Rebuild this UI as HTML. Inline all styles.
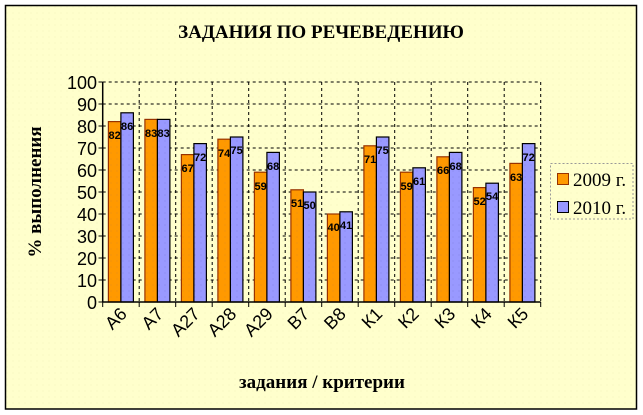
<!DOCTYPE html>
<html><head><meta charset="utf-8"><style>
html,body{margin:0;padding:0;background:#fff;}
svg{display:block;}
</style></head><body>
<svg width="643" height="415" viewBox="0 0 643 415" xmlns="http://www.w3.org/2000/svg">
<defs>
<pattern id="dots" width="6" height="6" patternUnits="userSpaceOnUse"><rect width="6" height="6" fill="#FFFFCC"/><circle cx="1" cy="1" r="0.6" fill="#F4F4C0"/></pattern>
<pattern id="od" width="6" height="6" patternUnits="userSpaceOnUse"><rect width="6" height="6" fill="#FF9900"/><circle cx="3" cy="3" r="0.5" fill="#E08A20"/></pattern>
<pattern id="bd" width="6" height="6" patternUnits="userSpaceOnUse"><rect width="6" height="6" fill="#9999FF"/><circle cx="3" cy="3" r="0.5" fill="#8080E0"/></pattern>
</defs>
<rect x="5.5" y="5.5" width="631" height="403.5" fill="url(#dots)" stroke="#000" stroke-width="1.5"/>
<text x="321" y="38" text-anchor="middle" font-family="Liberation Serif, serif" font-weight="bold" font-size="19">ЗАДАНИЯ ПО РЕЧЕВЕДЕНИЮ</text>
<g stroke="#000" stroke-width="1" stroke-dasharray="3,3" fill="none">
<line x1="102.7" y1="82" x2="540.7" y2="82"/><line x1="102.7" y1="104" x2="540.7" y2="104"/><line x1="102.7" y1="126" x2="540.7" y2="126"/><line x1="102.7" y1="148" x2="540.7" y2="148"/><line x1="102.7" y1="170" x2="540.7" y2="170"/><line x1="102.7" y1="192" x2="540.7" y2="192"/><line x1="102.7" y1="214" x2="540.7" y2="214"/><line x1="102.7" y1="236" x2="540.7" y2="236"/><line x1="102.7" y1="258" x2="540.7" y2="258"/><line x1="102.7" y1="280" x2="540.7" y2="280"/>
<line x1="139.2" y1="82" x2="139.2" y2="302"/><line x1="175.7" y1="82" x2="175.7" y2="302"/><line x1="212.2" y1="82" x2="212.2" y2="302"/><line x1="248.7" y1="82" x2="248.7" y2="302"/><line x1="285.2" y1="82" x2="285.2" y2="302"/><line x1="321.7" y1="82" x2="321.7" y2="302"/><line x1="358.2" y1="82" x2="358.2" y2="302"/><line x1="394.7" y1="82" x2="394.7" y2="302"/><line x1="431.2" y1="82" x2="431.2" y2="302"/><line x1="467.7" y1="82" x2="467.7" y2="302"/><line x1="504.2" y1="82" x2="504.2" y2="302"/><line x1="540.7" y1="82" x2="540.7" y2="302"/>
</g>
<g stroke="#993300" stroke-width="1.2" fill="url(#od)">
<rect x="108.4" y="121.6" width="12.5" height="180.4"/><rect x="144.9" y="119.4" width="12.5" height="182.6"/><rect x="181.4" y="154.6" width="12.5" height="147.4"/><rect x="217.9" y="139.2" width="12.5" height="162.8"/><rect x="254.4" y="172.2" width="12.5" height="129.8"/><rect x="290.9" y="189.8" width="12.5" height="112.2"/><rect x="327.4" y="214" width="12.5" height="88"/><rect x="363.9" y="145.8" width="12.5" height="156.2"/><rect x="400.4" y="172.2" width="12.5" height="129.8"/><rect x="436.9" y="156.8" width="12.5" height="145.2"/><rect x="473.4" y="187.6" width="12.5" height="114.4"/><rect x="509.9" y="163.4" width="12.5" height="138.6"/>
</g>
<g stroke="#000" stroke-width="1.2" fill="url(#bd)">
<rect x="120.9" y="112.8" width="12.5" height="189.2"/><rect x="157.4" y="119.4" width="12.5" height="182.6"/><rect x="193.9" y="143.6" width="12.5" height="158.4"/><rect x="230.4" y="137" width="12.5" height="165"/><rect x="266.9" y="152.4" width="12.5" height="149.6"/><rect x="303.4" y="192" width="12.5" height="110"/><rect x="339.9" y="211.8" width="12.5" height="90.2"/><rect x="376.4" y="137" width="12.5" height="165"/><rect x="412.9" y="167.8" width="12.5" height="134.2"/><rect x="449.4" y="152.4" width="12.5" height="149.6"/><rect x="485.9" y="183.2" width="12.5" height="118.8"/><rect x="522.4" y="143.6" width="12.5" height="158.4"/>
</g>
<g font-family="Liberation Sans, sans-serif" font-weight="bold" font-size="11" text-anchor="middle" fill="#000" transform="scale(1,1)">
<text x="114.6" y="139">82</text><text x="151.1" y="137">83</text><text x="187.6" y="172">67</text><text x="224.1" y="157">74</text><text x="260.6" y="190">59</text><text x="297.1" y="207">51</text><text x="333.6" y="231">40</text><text x="370.1" y="163">71</text><text x="406.6" y="190">59</text><text x="443.1" y="174">66</text><text x="479.6" y="205">52</text><text x="516.1" y="181">63</text>
<text x="127.1" y="130">86</text><text x="163.6" y="137">83</text><text x="200.1" y="161">72</text><text x="236.6" y="154">75</text><text x="273.1" y="170">68</text><text x="309.6" y="209">50</text><text x="346.1" y="229">41</text><text x="382.6" y="154">75</text><text x="419.1" y="185">61</text><text x="455.6" y="170">68</text><text x="492.1" y="200">54</text><text x="528.6" y="161">72</text>
</g>
<g stroke="#000" stroke-width="1.5">
<line x1="102.7" y1="82" x2="102.7" y2="302"/><line x1="102.7" y1="302" x2="540.7" y2="302"/>
</g>
<g stroke="#000" stroke-width="1">
<line x1="98.5" y1="82" x2="102.7" y2="82"/><line x1="98.5" y1="104" x2="102.7" y2="104"/><line x1="98.5" y1="126" x2="102.7" y2="126"/><line x1="98.5" y1="148" x2="102.7" y2="148"/><line x1="98.5" y1="170" x2="102.7" y2="170"/><line x1="98.5" y1="192" x2="102.7" y2="192"/><line x1="98.5" y1="214" x2="102.7" y2="214"/><line x1="98.5" y1="236" x2="102.7" y2="236"/><line x1="98.5" y1="258" x2="102.7" y2="258"/><line x1="98.5" y1="280" x2="102.7" y2="280"/><line x1="98.5" y1="302" x2="102.7" y2="302"/>
<line x1="102.7" y1="302" x2="102.7" y2="307"/><line x1="139.2" y1="302" x2="139.2" y2="307"/><line x1="175.7" y1="302" x2="175.7" y2="307"/><line x1="212.2" y1="302" x2="212.2" y2="307"/><line x1="248.7" y1="302" x2="248.7" y2="307"/><line x1="285.2" y1="302" x2="285.2" y2="307"/><line x1="321.7" y1="302" x2="321.7" y2="307"/><line x1="358.2" y1="302" x2="358.2" y2="307"/><line x1="394.7" y1="302" x2="394.7" y2="307"/><line x1="431.2" y1="302" x2="431.2" y2="307"/><line x1="467.7" y1="302" x2="467.7" y2="307"/><line x1="504.2" y1="302" x2="504.2" y2="307"/><line x1="540.7" y1="302" x2="540.7" y2="307"/>
</g>
<g font-family="Liberation Sans, sans-serif" font-size="18" text-anchor="end" fill="#000">
<text x="97" y="89">100</text><text x="97" y="111">90</text><text x="97" y="133">80</text><text x="97" y="155">70</text><text x="97" y="177">60</text><text x="97" y="199">50</text><text x="97" y="221">40</text><text x="97" y="243">30</text><text x="97" y="265">20</text><text x="97" y="287">10</text><text x="97" y="309">0</text>
</g>
<g font-family="Liberation Sans, sans-serif" font-size="18" text-anchor="end" fill="#000">
<text transform="translate(128,315) rotate(-45)">А6</text>
<text transform="translate(164.5,315) rotate(-45)">А7</text>
<text transform="translate(201,315) rotate(-45)">А27</text>
<text transform="translate(237.5,315) rotate(-45)">А28</text>
<text transform="translate(274,315) rotate(-45)">А29</text>
<text transform="translate(310.5,315) rotate(-45)">В7</text>
<text transform="translate(347,315) rotate(-45)">В8</text>
<text transform="translate(383.5,315) rotate(-45)">К1</text>
<text transform="translate(420,315) rotate(-45)">К2</text>
<text transform="translate(456.5,315) rotate(-45)">К3</text>
<text transform="translate(493,315) rotate(-45)">К4</text>
<text transform="translate(529.5,315) rotate(-45)">К5</text>
</g>
<text x="322" y="388" text-anchor="middle" font-family="Liberation Serif, serif" font-weight="bold" font-size="19">задания / критерии</text>
<text transform="translate(41,192) rotate(-90)" text-anchor="middle" font-family="Liberation Serif, serif" font-weight="bold" font-size="19">% выполнения</text>
<rect x="550.5" y="163.5" width="82.5" height="55.5" fill="url(#dots)" stroke="#999" stroke-dasharray="2,2"/>
<rect x="557.5" y="173.5" width="11" height="11" fill="#FF9900" stroke="#993300"/>
<rect x="557.5" y="201.5" width="11" height="11" fill="#9999FF" stroke="#000"/>
<text x="573" y="186" font-family="Liberation Serif, serif" font-size="19">2009 г.</text>
<text x="573" y="214" font-family="Liberation Serif, serif" font-size="19">2010 г.</text>
</svg>
</body></html>
